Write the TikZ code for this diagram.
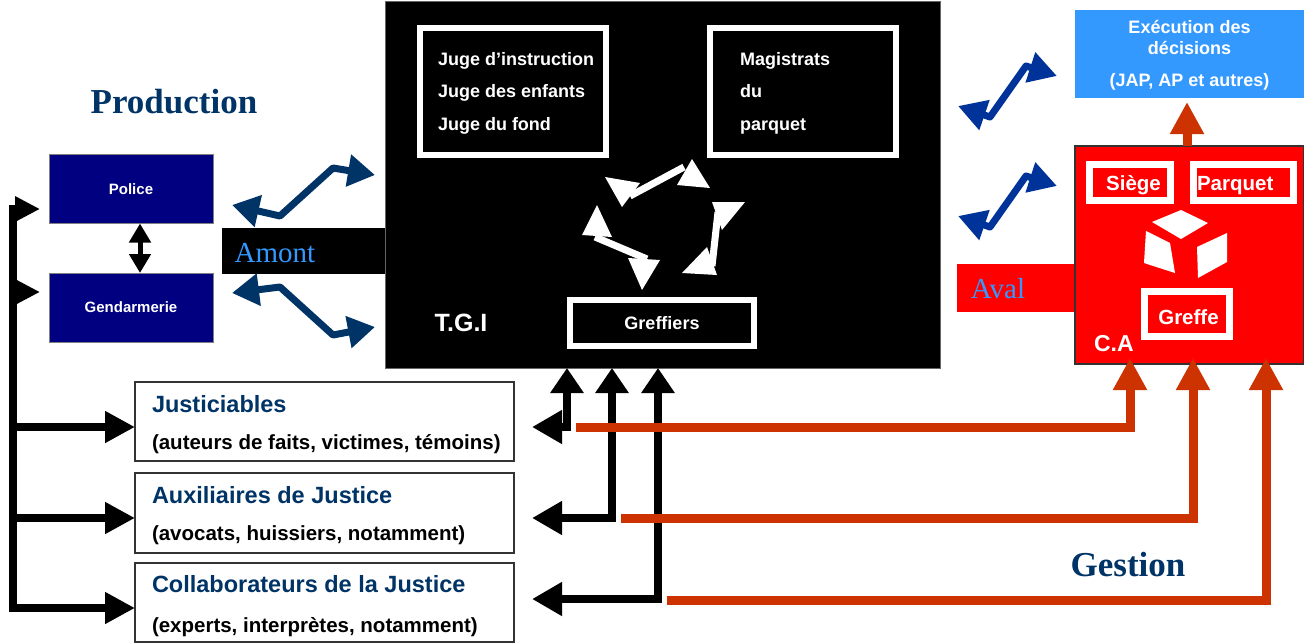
\documentclass[tikz,border=0pt]{standalone}
\usepackage{fontspec}
\setmainfont{Liberation Serif}
\setsansfont{Liberation Sans}
\usetikzlibrary{arrows.meta}
\definecolor{navyb}{HTML}{000080}
\definecolor{darkblue}{HTML}{003366}
\definecolor{royal}{HTML}{003399}
\definecolor{skyb}{HTML}{3399FF}
\definecolor{rust}{HTML}{CC3300}
\definecolor{redca}{HTML}{FF0000}
\newcommand\myfs[1]{\fontsize{#1}{#1}\selectfont}
\begin{document}
\begin{tikzpicture}[x=1pt,y=-1pt,
  every node/.style={inner sep=0pt,outer sep=0pt},
  wframe/.style={rectangle,draw=white,line width=6pt},
  rframe/.style={rectangle,draw=white,line width=7pt},
  ltxt/.style={text=white,font=\sffamily\bfseries\myfs{18},anchor=base west},
  ctxt/.style={text=white,font=\sffamily\bfseries\myfs{18}},
  catxt/.style={text=white,font=\sffamily\bfseries\myfs{20.5}},
  ttl/.style={text=darkblue,font=\sffamily\bfseries\myfs{23.5},anchor=base west},
  sub/.style={text=black,font=\sffamily\bfseries\myfs{20.5},anchor=base west},
  lbox/.style={rectangle,draw=black!80,line width=1.5pt,fill=white,minimum width=379pt},
  zigL/.style={draw=darkblue,line width=7pt,line join=round,arrows={Triangle[length=27pt,width=31pt]-Triangle[length=27pt,width=31pt]}},
  zigR/.style={draw=royal,line width=7pt,line join=round,arrows={Triangle[length=28pt,width=30pt]-Triangle[length=28pt,width=30pt]}},
  tgiline/.style={draw=black,line width=8pt,arrows={Triangle[length=25pt,width=32pt]-Triangle[length=30pt,width=32pt]}},
  gestline/.style={draw=rust,line width=9pt,arrows={-Triangle[length=32pt,width=32pt]}},
  bigserif/.style={font=\rmfamily\bfseries\myfs{35},text=darkblue},
  sidelbl/.style={font=\rmfamily\myfs{29},text=skyb}]
\useasboundingbox (0,0) rectangle (1304,643);
\fill[white] (0,0) rectangle (1304,643);

% side bars
\node[fill=black,minimum width=163pt,minimum height=46pt,anchor=north west] (amontbar) at (222,228) {};
\node[sidelbl] (amont) at (275,253) {Amont};
\node[fill=redca,minimum width=118pt,minimum height=48pt,anchor=north west] (avalbar) at (957,264) {};
\node[sidelbl] (aval) at (998,289) {Aval};

% TGI
\node[fill=black,draw=black!60,line width=1pt,minimum width=555pt,minimum height=367pt,anchor=north west] (tgi) at (385,1) {};
\node[wframe,minimum width=186pt,minimum height=127pt] (juges) at (513,91.5) {};
\node[ltxt] (j1) at (438,65) {Juge d’instruction};
\node[ltxt] (j2) at (438,97) {Juge des enfants};
\node[ltxt] (j3) at (438,130) {Juge du fond};
\node[wframe,minimum width=186pt,minimum height=127pt] (magis) at (803,91.5) {};
\node[ltxt] (m1) at (740,65) {Magistrats};
\node[ltxt] (m2) at (740,97) {du};
\node[ltxt] (m3) at (740,130) {parquet};
\node[wframe,ctxt,minimum width=184pt,minimum height=46pt] (greff) at (662,323) {Greffiers};
\node[text=white,font=\sffamily\bfseries\myfs{25}] (tgilbl) at (461,323) {T.G.I};

% cycle arrows in TGI
\fill[white] (605,177) -- (640,183) -- (622,207) -- cycle;
\fill[white] (692,159) -- (710,188) -- (677,185) -- cycle;
\draw[white,line width=7pt] (630,196) -- (684,167);
\fill[white] (712,202) -- (745,202) -- (722,230) -- cycle;
\fill[white] (707,247) -- (717,275) -- (682,273) -- cycle;
\draw[white,line width=7pt] (718,212) -- (712,266);
\fill[white] (597,205) -- (612,237) -- (582,235) -- cycle;
\fill[white] (628,258) -- (660,260) -- (642,290) -- cycle;
\draw[white,line width=7pt] (595,237) -- (647,259);

% Production side
\node[bigserif] (prod) at (174,102) {Production};
\node[fill=navyb,draw=black!50,line width=0.8pt,minimum width=164pt,minimum height=69pt,text=white,font=\sffamily\bfseries\myfs{15}] (police) at (131,189) {Police};
\node[fill=navyb,draw=black!50,line width=0.8pt,minimum width=164pt,minimum height=69pt,text=white,font=\sffamily\bfseries\myfs{15}] (gend) at (131,307.5) {Gendarmerie};
\draw[line width=5pt,arrows={Triangle[length=19pt,width=21pt]-Triangle[length=19pt,width=21pt]}] ([xshift=9pt]police.south) -- ([xshift=9pt]gend.north);

% lower-left boxes
\node[lbox,minimum height=79pt] (just) at (324.5,421.5) {};
\node[ttl] (justt) at (152,412) {Justiciables};
\node[sub] (justs) at (152,449) {(auteurs de faits, victimes, témoins)};
\node[lbox,minimum height=80pt] (aux) at (324.5,513) {};
\node[ttl] (auxt) at (152,503) {Auxiliaires de Justice};
\node[sub] (auxs) at (152,540) {(avocats, huissiers, notamment)};
\node[lbox,minimum height=79pt] (coll) at (324.5,602.5) {};
\node[ttl] (collt) at (152,592) {Collaborateurs de la Justice};
\node[sub] (colls) at (152,632) {(experts, interprètes, notamment)};

% right side
\node[fill=skyb,minimum width=229pt,minimum height=88pt] (exec) at (1189.5,54) {};
\node[ctxt] (e1) at (1189.5,27) {Exécution des};
\node[ctxt] (e2) at (1189.5,48) {décisions};
\node[ctxt] (e3) at (1189.5,82) {(JAP, AP et autres)};
\node[fill=redca,draw=black!80,line width=1.5pt,minimum width=229pt,minimum height=218pt] (ca) at (1189.5,255) {};
\node[rframe,minimum width=81pt,minimum height=36pt] (siege) at (1130,182.5) {};
\node[catxt,anchor=base] (siegel) at (1133.5,190) {Siège};
\node[rframe,minimum width=100pt,minimum height=36pt] (parq) at (1243.5,182.5) {};
\node[catxt,anchor=base west] (parql) at (1197,190) {Parquet};
\node[rframe,minimum width=85pt,minimum height=45pt] (greffe) at (1187,314) {};
\node[catxt,anchor=base] (greffel) at (1188.5,324) {Greffe};
\node[text=white,font=\sffamily\bfseries\myfs{23},anchor=base west] (calbl) at (1094,351) {C.A};
\fill[white] (1152,222) -- (1181,210) -- (1208,223) -- (1181,239) -- cycle;
\fill[white] (1146,231) -- (1170,243) -- (1175,273) -- (1144,263) -- cycle;
\fill[white] (1197,247) -- (1227,233) -- (1227,262) -- (1198,278) -- cycle;
\node[bigserif] (gest) at (1128,565) {Gestion};

% blue zigzag connectors
\coordinate (la1) at (232,205); \coordinate (la2) at (280,216); \coordinate (la3) at (333,168); \coordinate (la4) at (375,175);
\draw[zigL] (la1) -- (la2) -- (la3) -- (la4);
\coordinate (lb1) at (232,293); \coordinate (lb2) at (280,287); \coordinate (lb3) at (333,335); \coordinate (lb4) at (375,327);
\draw[zigL] (lb1) -- (lb2) -- (lb3) -- (lb4);
\coordinate (ra1) at (958,106); \coordinate (ra2) at (990,117); \coordinate (ra3) at (1026,66); \coordinate (ra4) at (1057,76);
\draw[zigR] (ra1) -- (ra2) -- (ra3) -- (ra4);
\coordinate (rb1) at (958,216); \coordinate (rb2) at (990,227); \coordinate (rb3) at (1026,176); \coordinate (rb4) at (1057,186);
\draw[zigR] (rb1) -- (rb2) -- (rb3) -- (rb4);

% black distribution bus
\coordinate (busP) at (13,209);
\coordinate (busG) at (13,292);
\coordinate (busJ) at (13,427);
\coordinate (busA) at (13,518);
\coordinate (busC) at (13,608);
\draw[line width=8pt,arrows={Triangle[length=25pt,width=24pt]-Triangle[length=30pt,width=30pt]}]
  ([xshift=-9pt]busP -| police.west) -- (busP) -- (busC) -- (busC -| coll.west);
\draw[line width=8pt,arrows={-Triangle[length=25pt,width=24pt]}] (busG) -- ([xshift=-9pt]busG -| gend.west);
\draw[line width=8pt,arrows={-Triangle[length=30pt,width=30pt]}] (busJ) -- (busJ -| just.west);
\draw[line width=8pt,arrows={-Triangle[length=30pt,width=30pt]}] (busA) -- (busA -| aux.west);

% TGI to lower boxes
\coordinate (t1) at (567,427);
\coordinate (t2) at (612,518);
\coordinate (t3) at (658,599);
\draw[tgiline] (t1 |- tgi.south) -- (t1) -- ([xshift=18pt]t1 -| just.east);
\draw[tgiline] (t2 |- tgi.south) -- (t2) -- ([xshift=18pt]t2 -| aux.east);
\draw[tgiline] (t3 |- tgi.south) -- (t3) -- ([xshift=18pt]t3 -| coll.east);

% Gestion lines to C.A
\coordinate (g1) at (576,427); \coordinate (c1) at (1130,427);
\coordinate (g2) at (621,518); \coordinate (c2) at (1193,518);
\coordinate (g3) at (667,600); \coordinate (c3) at (1266,600);
\draw[gestline] (g1) -- (c1) -- ([yshift=6pt]c1 |- ca.south);
\draw[gestline] (g2) -- (c2) -- ([yshift=6pt]c2 |- ca.south);
\draw[gestline] (g3) -- (c3) -- ([yshift=6pt]c3 |- ca.south);
\draw[gestline] ([xshift=-2.5pt]ca.north) -- ([xshift=-2.5pt,yshift=-4pt]exec.south);
\end{tikzpicture}
\end{document}
